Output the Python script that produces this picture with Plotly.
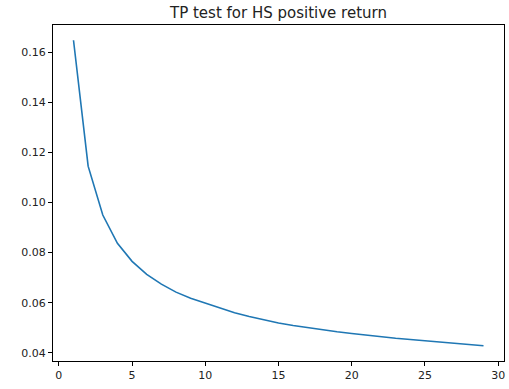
import plotly.graph_objects as go

# Holding period (days) and test statistic
periods = list(range(1, 30))
tp_values = [
    0.1648, 0.1145, 0.0950, 0.0837, 0.0765, 0.0713, 0.0674, 0.0642, 0.0618, 0.0598,
    0.0578, 0.0560, 0.0545, 0.0531, 0.0519, 0.0509, 0.0500, 0.0492, 0.0484, 0.0477,
    0.0470, 0.0464, 0.0458, 0.0453, 0.0448, 0.0443, 0.0438, 0.0433, 0.0428,
]
x_ticks = [0, 5, 10, 15, 20, 25, 30]
y_ticks = [0.04, 0.06, 0.08, 0.10, 0.12, 0.14, 0.16]

fig = go.Figure(
    go.Scatter(
        x=periods,
        y=tp_values,
        mode="lines",
        line=dict(color="#1f77b4", width=1.6),
        showlegend=False,
    )
)

x_pad = (max(periods) - min(periods)) * 0.05
y_pad = (max(tp_values) - min(tp_values)) * 0.05

axis_style = dict(
    showgrid=False,
    zeroline=False,
    showline=True,
    linecolor="black",
    linewidth=1,
    mirror=True,
    ticks="outside",
    ticklen=4,
    tickwidth=1,
    tickcolor="black",
    tickfont=dict(family="DejaVu Sans", size=11, color="#222222"),
)

fig.update_xaxes(
    range=[min(periods) - x_pad, max(periods) + x_pad],
    tickvals=x_ticks,
    ticktext=[str(v) for v in x_ticks],
    **axis_style,
)
fig.update_yaxes(
    range=[min(tp_values) - y_pad, max(tp_values) + y_pad],
    tickvals=y_ticks,
    ticktext=[f"{v:.2f}" for v in y_ticks],
    **axis_style,
)

fig.update_layout(
    width=509,
    height=389,
    margin=dict(l=53, r=5, t=25, b=28),
    paper_bgcolor="white",
    plot_bgcolor="white",
    title=dict(
        text="TP test for HS positive return",
        x=(53 + 504) / 2 / 509,
        xanchor="center",
        y=1 - 13 / 389,
        yanchor="middle",
        font=dict(family="DejaVu Sans", size=15, color="#222222"),
    ),
)

fig.write_html("out.html")
